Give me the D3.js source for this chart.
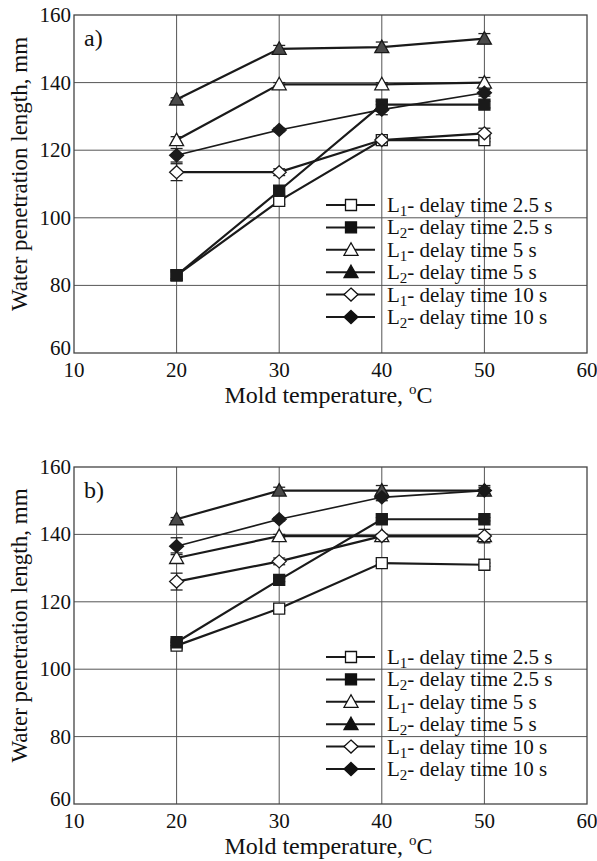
<!DOCTYPE html>
<html>
<head>
<meta charset="utf-8">
<script src="https://cdn.jsdelivr.net/npm/d3@7"></script>
<style>
  body { margin: 0; background: #fff; }
  text { font-family: "Liberation Serif", "Times New Roman", serif; fill: #111; }
</style>
</head>
<body>
<div id="chart"></div>
<script>
// Mold temperatures (x) and tick values
const temps = [20, 30, 40, 50];
const xTicks = [10, 20, 30, 40, 50, 60];
const yTicks = [60, 80, 100, 120, 140, 160];

// Legend labels (L + subscript + rest)
const labelSub = ["1", "2", "1", "2", "1", "2"];
const labelRest = ["- delay time 2.5 s", "- delay time 2.5 s", "- delay time 5 s",
                   "- delay time 5 s", "- delay time 10 s", "- delay time 10 s"];
const markerKind = ["square", "square", "triangle", "triangle", "diamond", "diamond"];
const markerFilled = [false, true, false, true, false, true];

// Panel a) values, mm
const aL1_25 = [83, 105, 123, 123];
const aL2_25 = [83, 108, 133.5, 133.5];
const aL1_5 = [123, 139.5, 139.5, 140];
const aL2_5 = [135, 150, 150.5, 153];
const aL1_10 = [113.5, 113.5, 123, 125];
const aL2_10 = [118.5, 126, 132, 137];
// Panel a) error half-widths
const aErr = [[1.5, 1, 0.5, 0.5], [1, 1.5, 1, 1], [1, 0.5, 0.5, 1.5],
              [0.5, 1, 1.5, 1.5], [2.5, 1, 0.5, 1.5], [2, 0.5, 1.5, 1]];

// Panel b) values, mm
const bL1_25 = [107, 118, 131.5, 131];
const bL2_25 = [108, 126.5, 144.5, 144.5];
const bL1_5 = [133, 139.5, 139.5, 139.5];
const bL2_5 = [144.5, 153, 153, 153];
const bL1_10 = [126, 132, 139.5, 139.5];
const bL2_10 = [136.5, 144.5, 151, 153];
const bErr = [[1, 0.5, 0.5, 0.5], [1, 0.5, 0.5, 0.5], [1.5, 0.5, 0.5, 0.5],
              [0.5, 1, 1.5, 1.5], [2.5, 1, 0.5, 2], [2.5, 0.5, 1, 1]];

const W = 597, H = 861;
const svg = d3.select("#chart").append("svg")
    .attr("width", W)
    .attr("height", H);

// marker path centred at 0,0
function markerPath(kind) {
    if (kind === "square") return "M-5.5,-5.5H5.5V5.5H-5.5Z";
    if (kind === "triangle") return "M0,-7L7,5.5H-7Z";
    return "M0,-6.5L7,0L0,6.5L-7,0Z";
}

function drawPanel(top, bottom, tag, series, errs) {
    const x = d3.scaleLinear().domain([10, 60]).range([74, 587]);
    const y = d3.scaleLinear().domain([60, 160]).range([bottom, top]);
    const g = svg.append("g");

    // grid
    g.selectAll("line.hg").data(yTicks.slice(1, -1)).enter().append("line")
        .attr("x1", x(10)).attr("x2", x(60))
        .attr("y1", d => y(d)).attr("y2", d => y(d))
        .attr("stroke", "#555").attr("stroke-width", 1);
    g.selectAll("line.vg").data(xTicks.slice(1, -1)).enter().append("line")
        .attr("x1", d => x(d)).attr("x2", d => x(d))
        .attr("y1", y(60)).attr("y2", y(160))
        .attr("stroke", "#555").attr("stroke-width", 1);
    g.append("rect")
        .attr("x", x(10)).attr("y", y(160))
        .attr("width", x(60) - x(10)).attr("height", y(60) - y(160))
        .attr("fill", "none").attr("stroke", "#444").attr("stroke-width", 1.3);

    // tick labels (bottom y label nudged up, as in the original)
    g.selectAll("text.yt").data(yTicks).enter().append("text")
        .attr("x", x(10) - 3).attr("y", d => y(d) + (d === 60 ? 2 : 7))
        .attr("text-anchor", "end").attr("font-size", 21)
        .text(d => d);
    g.selectAll("text.xt").data(xTicks).enter().append("text")
        .attr("x", d => x(d)).attr("y", y(60) + 24)
        .attr("text-anchor", "middle").attr("font-size", 21)
        .text(d => d);

    // axis titles
    const xt = g.append("text")
        .attr("x", (x(10) + x(60)) / 2 - 2).attr("y", y(60) + 50)
        .attr("text-anchor", "middle").attr("font-size", 24);
    xt.append("tspan").text("Mold temperature, ");
    xt.append("tspan").attr("dy", -9).attr("font-size", 15).text("o");
    xt.append("tspan").attr("dy", 9).text("C");

    g.append("text")
        .attr("transform", `translate(27,${(top + bottom) / 2 - 10}) rotate(-90)`)
        .attr("text-anchor", "middle").attr("font-size", 23)
        .text("Water penetration length, mm");

    g.append("text")
        .attr("x", x(10) + 10).attr("y", y(160) + 31)
        .attr("font-size", 24)
        .text(tag);

    const line = d3.line().x((d, i) => x(temps[i])).y(d => y(d));

    series.forEach((vals, s) => {
        g.append("path")
            .attr("d", line(vals))
            .attr("fill", "none")
            .attr("stroke", "#1a1a1a")
            .attr("stroke-width", s === 5 ? 1.6 : 2.2);
    });

    // error bars
    series.forEach((vals, s) => {
        vals.forEach((v, i) => {
            const e = errs[s][i];
            const cx = x(temps[i]);
            g.append("line").attr("x1", cx).attr("x2", cx)
                .attr("y1", y(v - e)).attr("y2", y(v + e))
                .attr("stroke", "#222").attr("stroke-width", 1.3);
            [v - e, v + e].forEach(t => {
                g.append("line").attr("x1", cx - 6).attr("x2", cx + 6)
                    .attr("y1", y(t)).attr("y2", y(t))
                    .attr("stroke", "#222").attr("stroke-width", 1.3);
            });
        });
    });

    // markers
    series.forEach((vals, s) => {
        g.selectAll(null).data(vals).enter().append("path")
            .attr("transform", (d, i) => `translate(${x(temps[i])},${y(d)})`)
            .attr("d", markerPath(markerKind[s]))
            .attr("fill", markerFilled[s] ? (markerKind[s] === "triangle" ? "#4a4a4a" : "#1a1a1a") : "#fff")
            .attr("stroke", "#1a1a1a")
            .attr("stroke-width", 1.3);
    });

    // legend
    const leg = g.append("g").attr("transform", `translate(0,${top + 190})`);
    labelSub.forEach((sub, s) => {
        const ly = s * 22.4;
        leg.append("line").attr("x1", 326).attr("x2", 375)
            .attr("y1", ly).attr("y2", ly)
            .attr("stroke", "#1a1a1a").attr("stroke-width", 2);
        leg.append("path")
            .attr("transform", `translate(351,${ly})`)
            .attr("d", markerPath(markerKind[s]))
            .attr("fill", markerFilled[s] ? "#111" : "#fff")
            .attr("stroke", "#111").attr("stroke-width", 1.3);
        const t = leg.append("text")
            .attr("x", 387).attr("y", ly + 7)
            .attr("font-size", 21);
        t.append("tspan").text("L");
        t.append("tspan").attr("dy", 4).attr("font-size", 15).text(sub);
        t.append("tspan").attr("dy", -4).text(labelRest[s]);
    });
}

drawPanel(15, 353, "a)", [aL1_25, aL2_25, aL1_5, aL2_5, aL1_10, aL2_10], aErr);
drawPanel(467, 804, "b)", [bL1_25, bL2_25, bL1_5, bL2_5, bL1_10, bL2_10], bErr);
</script>
</body>
</html>
